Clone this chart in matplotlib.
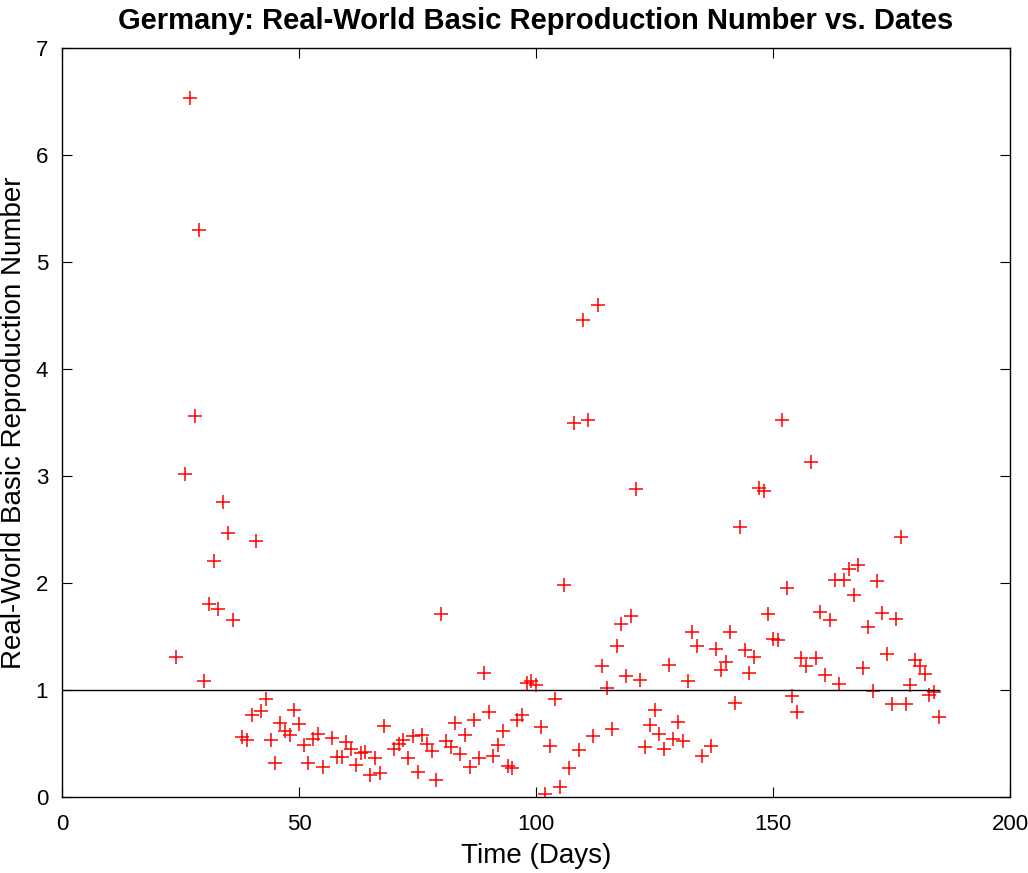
import numpy as np
import matplotlib
matplotlib.use("Agg")
import matplotlib.pyplot as plt

# days with a value (some days have no point)
days = [24, 26, 27, 28, 29, 30, 31, 32, 33, 34, 35, 36,
        38, 39, 40, 41, 42, 43, 44, 45, 46, 47, 48, 49, 50,
        51, 52, 53, 54, 55, 57, 58, 59, 60, 61, 62, 63, 64, 65, 66, 67, 68,
        70, 71, 72, 73, 74, 75, 76, 77, 78, 79, 80,
        81, 82, 83, 84, 85, 86, 87, 88, 89, 90,
        91, 92, 93, 94, 95, 96, 97, 98, 99, 100,
        101, 102, 103, 104, 105, 106, 107, 108, 109, 110,
        111, 112, 113, 114, 115, 116, 117, 118, 119, 120,
        121, 122, 123, 124, 125, 126, 127, 128, 129, 130,
        131, 132, 133, 134, 135, 137, 138, 139, 140,
        141, 142, 143, 144, 145, 146, 147, 148, 149, 150,
        151, 152, 153, 154, 155, 156, 157, 158, 159, 160,
        161, 162, 163, 164, 165, 166, 167, 168, 169, 170,
        171, 172, 173, 174, 175, 176, 177, 178, 179, 180,
        181, 182, 183, 184, 185]

r0 = [1.31, 3.02, 6.53, 3.56, 5.30, 1.08, 1.80, 2.21, 1.76, 2.76, 2.47, 1.65,
      0.56, 0.53, 0.77, 2.39, 0.80, 0.92, 0.53, 0.32, 0.69, 0.62, 0.58, 0.81, 0.68,
      0.49, 0.32, 0.54, 0.59, 0.28, 0.55, 0.37, 0.37, 0.51, 0.45, 0.30, 0.41, 0.42, 0.21, 0.36, 0.22, 0.66,
      0.45, 0.50, 0.53, 0.36, 0.57, 0.23, 0.58, 0.50, 0.43, 0.16, 1.71,
      0.52, 0.47, 0.69, 0.40, 0.58, 0.28, 0.72, 0.36, 1.16, 0.79,
      0.38, 0.49, 0.62, 0.29, 0.27, 0.72, 0.77, 1.07, 1.08, 1.05,
      0.65, 0.03, 0.48, 0.92, 0.09, 1.98, 0.27, 3.50, 0.44, 4.46,
      3.52, 0.57, 4.60, 1.22, 1.02, 0.64, 1.41, 1.62, 1.13, 1.69,
      2.88, 1.09, 0.47, 0.67, 0.81, 0.59, 0.45, 1.23, 0.54, 0.70,
      0.52, 1.08, 1.54, 1.41, 0.38, 0.48, 1.38, 1.19, 1.26,
      1.54, 0.88, 2.52, 1.37, 1.16, 1.31, 2.89, 2.86, 1.71, 1.48,
      1.47, 3.52, 1.95, 0.94, 0.79, 1.30, 1.22, 3.13, 1.30, 1.73,
      1.14, 1.65, 2.03, 1.06, 2.03, 2.13, 1.89, 2.17, 1.21, 1.59,
      0.99, 2.02, 1.72, 1.34, 0.87, 1.66, 2.43, 0.87, 1.05, 1.28,
      1.22, 1.15, 0.95, 0.98, 0.75]

plt.rcParams['font.family'] = ['Liberation Sans', 'DejaVu Sans']

fig = plt.figure(figsize=(10.28, 8.73), dpi=100)
ax = fig.add_axes([62 / 1028, 1 - 797 / 873, 948 / 1028, 749 / 873])

ax.plot(days, r0, '+', color='red', markersize=10, markeredgewidth=1.1)
ax.plot([0, days[-1]], [1, 1], color='black', linewidth=1)

ax.set_xlim(0, 200)
ax.set_ylim(0, 7)
ax.set_xticks([0, 50, 100, 150, 200])
ax.set_yticks(range(8))
ax.tick_params(direction='in', length=7, top=True, right=True, labelsize=16)
ax.tick_params(axis='x', pad=12)
ax.tick_params(axis='y', pad=10)
for s in ax.spines.values():
    s.set_linewidth(1)

ax.set_xlabel('Time (Days)', fontsize=20, labelpad=6)
ax.set_ylabel('Real-World Basic Reproduction Number', fontsize=20, labelpad=6)
ax.set_title('Germany: Real-World Basic Reproduction Number vs. Dates',
             fontsize=21, fontweight='bold', pad=14)

fig.savefig('out.png', dpi=100)
